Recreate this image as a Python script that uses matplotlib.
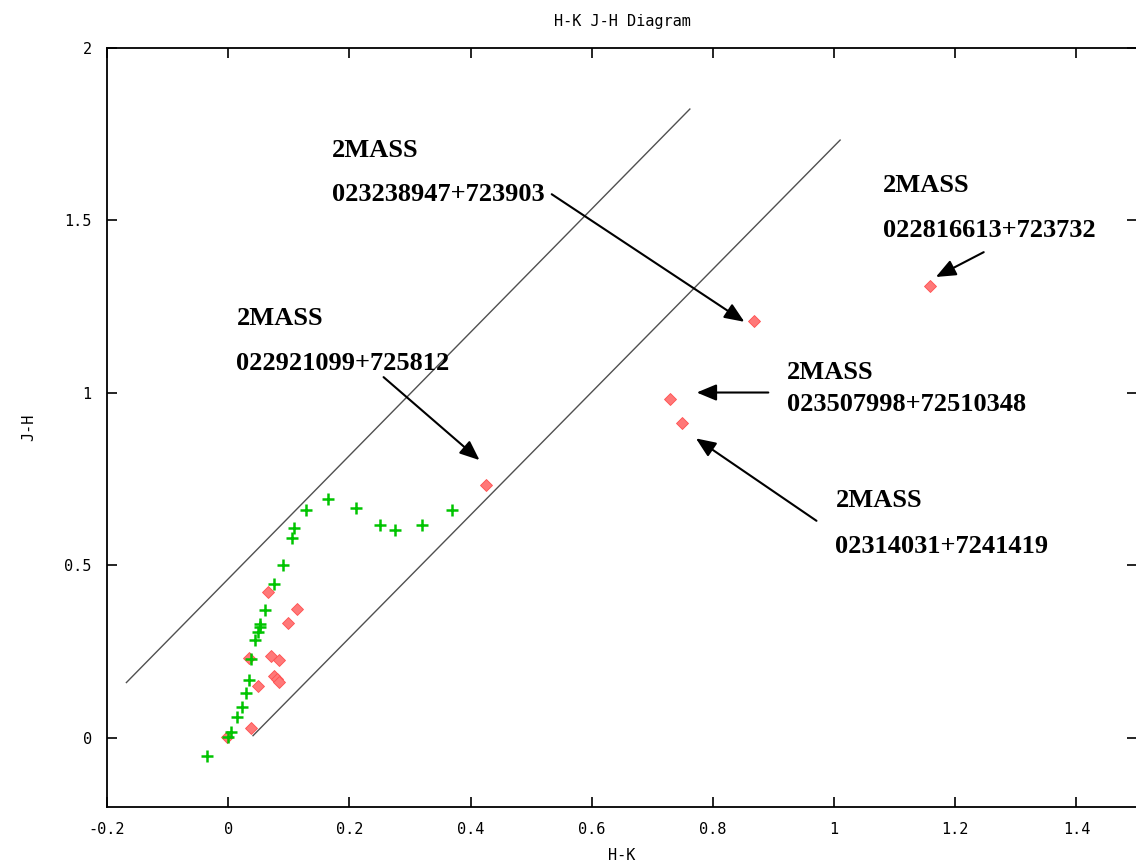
import matplotlib
matplotlib.use("Agg")
import matplotlib.pyplot as plt

# ---- data ----
green_hk = [-0.035, 0.000, 0.005, 0.015, 0.023, 0.030, 0.035, 0.037, 0.045, 0.050,
            0.052, 0.053, 0.060, 0.075, 0.090, 0.105, 0.108, 0.129, 0.165, 0.211,
            0.250, 0.275, 0.320, 0.369]
green_jh = [-0.052, 0.001, 0.018, 0.059, 0.090, 0.129, 0.166, 0.229, 0.282, 0.306,
            0.321, 0.330, 0.369, 0.447, 0.500, 0.579, 0.608, 0.660, 0.692, 0.665,
            0.618, 0.602, 0.618, 0.660]

red_hk = [0.425, 0.065, 0.114, 0.098, 0.034, 0.071, 0.084, 0.075, 0.080, 0.084,
          0.050, 0.038, -0.002, 0.868, 1.158, 0.729, 0.749]
red_jh = [0.733, 0.422, 0.373, 0.334, 0.230, 0.236, 0.224, 0.180, 0.171, 0.161,
          0.149, 0.028, 0.001, 1.207, 1.309, 0.982, 0.914]

upper_line_hk = [-0.168, 0.762]
upper_line_jh = [0.160, 1.823]
lower_line_hk = [0.041, 1.010]
lower_line_jh = [0.006, 1.733]

labels = ["2MASS\n023238947+723903", "2MASS\n022816613+723732",
          "2MASS\n022921099+725812", "2MASS\n023507998+72510348",
          "2MASS\n02314031+7241419"]

title = "H-K J-H Diagram"
xlabel = "H-K"
ylabel = "J-H"
xticks = [-0.2, 0, 0.2, 0.4, 0.6, 0.8, 1, 1.2, 1.4]
xticklabels = ["-0.2", "0", "0.2", "0.4", "0.6", "0.8", "1", "1.2", "1.4"]
yticks = [0, 0.5, 1, 1.5, 2]
yticklabels = ["0", "0.5", "1", "1.5", "2"]

# ---- figure ----
fig = plt.figure(figsize=(11.36, 8.65), dpi=100)
ax = fig.add_axes([107 / 1136, 58.3 / 865, 1030 / 1136, 758.7 / 865])
ax.set_xlim(-0.2, 1.5)
ax.set_ylim(-0.2, 2.0)

mono = "DejaVu Sans Mono"

ax.plot(upper_line_hk, upper_line_jh, color="#505050", lw=1.0)
ax.plot(lower_line_hk, lower_line_jh, color="#505050", lw=1.0)

ax.plot(red_hk, red_jh, linestyle="none", marker="D", markersize=6,
        markerfacecolor="#ff7878", markeredgecolor="#ff5050", markeredgewidth=0.6)
ax.plot(green_hk, green_jh, linestyle="none", marker="+", markersize=9,
        markeredgewidth=1.8, color="#00c400")

# annotation text positions (line1 baseline, line2 baseline) and arrows
text_pos = [(0.171, 1.685, 1.555), (1.081, 1.583, 1.451), (0.0137, 1.198, 1.065),
            (0.9227, 1.040, 0.9485), (1.0023, 0.6677, 0.5358)]
arrows = [((0.534, 1.576), (0.852, 1.206)),
          ((1.247, 1.408), (1.168, 1.336)),
          ((0.2565, 1.0456), (0.4148, 0.805)),
          ((0.8915, 1.001), (0.7733, 1.001)),
          ((0.971, 0.629), (0.772, 0.868))]

for lab, (tx, y1, y2) in zip(labels, text_pos):
    l1, l2 = lab.split("\n")
    for s, yy in ((l1, y1), (l2, y2)):
        ax.text(tx, yy, s, family="Liberation Serif", fontweight="bold",
                fontsize=19, ha="left", va="baseline", color="black")

for (start, tip) in arrows:
    ax.annotate("", xy=tip, xytext=start,
                arrowprops=dict(arrowstyle="-|>,head_length=0.6,head_width=0.25",
                                color="black", lw=1.5, shrinkA=0, shrinkB=0,
                                mutation_scale=20))

ax.set_xticks(xticks)
ax.set_xticklabels(xticklabels, family=mono, fontsize=11)
ax.set_yticks(yticks)
ax.set_yticklabels(yticklabels, family=mono, fontsize=11)
ax.tick_params(direction="in", length=7, width=1.2, top=True, right=True, pad=11)
for sp in ax.spines.values():
    sp.set_linewidth(1.3)

ax.set_title(title, family=mono, fontsize=11, pad=16)
ax.set_xlabel(xlabel, family=mono, fontsize=11, labelpad=8)
ax.set_ylabel(ylabel, family=mono, fontsize=11, labelpad=20)

fig.savefig("out.png", dpi=100)
